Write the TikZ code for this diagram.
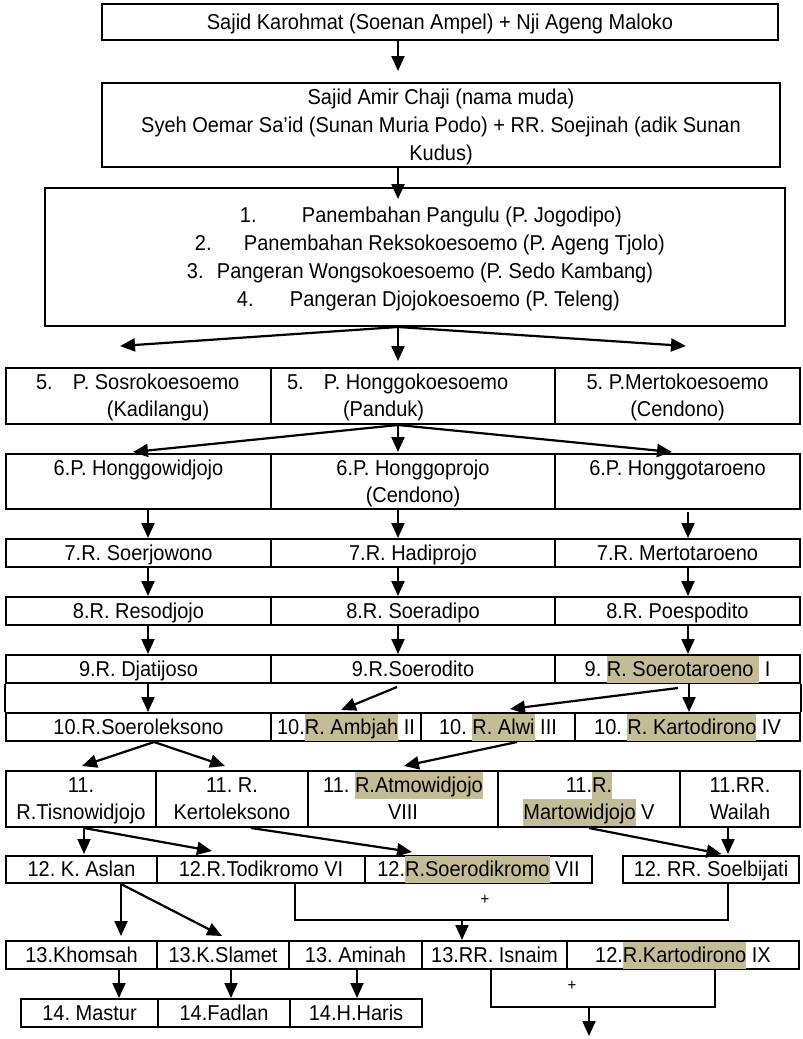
\documentclass[tikz,border=0pt]{standalone}
\usepackage{fontspec}
\setmainfont[FakeStretch=0.93]{Liberation Sans}
\usetikzlibrary{arrows.meta,calc}
\definecolor{hlc}{HTML}{C4BC96}
\newcommand\mystrut{\rule[-6.5pt]{0pt}{27pt}}
\newcommand\hl[1]{{\setlength{\fboxsep}{0pt}\colorbox{hlc}{\mystrut #1}}}
\newcommand\cell[7][]{\pgfmathsetmacro\cellw{(#5)-(#3)}\node[cellbox,minimum width=\cellw pt,text width=\cellw pt,minimum height={(#6)-(#4)},#1] (#2) at ({((#3)+(#5))/2},{((#4)+(#6))/2}) {#7};}
\begin{document}
\begin{tikzpicture}[x=1pt,y=-1pt,
  cellbox/.style={draw,line width=2pt,inner sep=0pt,align=center,font=\fontsize{21.5}{27}\selectfont\frenchspacing,
    execute at begin node={\spaceskip=\fontdimen2\font\relax\mystrut},execute at end node=\mystrut},
  arr/.style={line width=2.2pt,-{Triangle[length=15pt,width=13pt]}},
  bracket/.style={line width=1.6pt},
  plus/.style={font=\fontsize{16}{18}\selectfont,inner sep=0pt},
  sideline/.style={line width=2pt}]
\fill[white] (0,0) rectangle (803,1039);
\useasboundingbox (0,0) rectangle (803,1039);

% top boxes
\cell{b1}{102}{4}{778}{40}{Sajid Karohmat (Soenan Ampel) + Nji Ageng Maloko}
\cell[font=\fontsize{21.5}{28}\selectfont\frenchspacing]{b2}{102}{83}{780}{167}{Sajid Amir Chaji (nama muda)\\Syeh Oemar Sa’id (Sunan Muria Podo) + RR. Soejinah (adik Sunan\\Kudus)}
\cell[align=left,font=\fontsize{21.5}{28}\selectfont\frenchspacing]{b3}{45}{188}{785}{326}{%
\hspace*{195pt}\makebox[62pt][l]{1.}Panembahan Pangulu (P. Jogodipo)\\
\hspace*{150pt}\makebox[49pt][l]{2.}Panembahan Reksokoesoemo (P. Ageng Tjolo)\\
\hspace*{142pt}\makebox[30pt][l]{3.}Pangeran Wongsokoesoemo (P. Sedo Kambang)\\
\hspace*{192pt}\makebox[53pt][l]{4.}Pangeran Djojokoesoemo (P. Teleng)}

% row 5
\cell[align=left]{r5a}{6}{368}{271}{424}{\hspace*{30pt}\makebox[37pt][l]{5.}P. Sosrokoesoemo\\\hspace*{101pt}(Kadilangu)}
\cell[align=left]{r5b}{271}{368}{555}{424}{\hspace*{16pt}\makebox[37pt][l]{5.}P. Honggokoesoemo\\\hspace*{72pt}(Panduk)}
\cell{r5c}{555}{368}{800}{424}{5. P.Mertokoesoemo\\(Cendono)}

% row 6
\cell{r6a}{6}{454}{271}{509}{6.P. Honggowidjojo\\\mbox{}}
\cell{r6b}{271}{454}{555}{509}{6.P. Honggoprojo\\(Cendono)}
\cell{r6c}{555}{454}{800}{509}{6.P. Honggotaroeno\\\mbox{}}

% row 7
\cell{r7a}{6}{539}{271}{567}{7.R. Soerjowono}
\cell{r7b}{271}{539}{555}{567}{7.R. Hadiprojo}
\cell{r7c}{555}{539}{800}{567}{7.R. Mertotaroeno}

% row 8
\cell{r8a}{6}{597}{271}{625}{8.R. Resodjojo}
\cell{r8b}{271}{597}{555}{625}{8.R. Soeradipo}
\cell{r8c}{555}{597}{800}{625}{8.R. Poespodito}

% row 9
\cell{r9a}{6}{655}{271}{683}{9.R. Djatijoso}
\cell{r9b}{271}{655}{555}{683}{9.R.Soerodito}
\cell{r9c}{555}{655}{800}{683}{9. \hl{R. Soerotaroeno\ }\ I}

% row 10
\cell{r10a}{6}{713}{271}{741}{10.R.Soeroleksono}
\cell{r10b}{271}{713}{421}{741}{10.\hl{R. Ambjah} II}
\cell{r10c}{421}{713}{575}{741}{10. \hl{R. Alwi} III}
\cell{r10d}{575}{713}{800}{741}{10. \hl{R. Kartodirono} IV}
\draw[sideline] (r9a.south west) -- (r10a.north west);
\draw[sideline] (r9c.south east) -- (r10d.north east);

% row 11
\cell{r11a}{6}{771}{156}{827}{11.\\R.Tisnowidjojo}
\cell{r11b}{156}{771}{308}{827}{11. R.\\Kertoleksono}
\cell{r11c}{308}{771}{498}{827}{11. \hl{R.Atmowidjojo}\\VIII}
\cell{r11d}{498}{771}{680}{827}{11.\hl{R.}\\\hl{Martowidjojo} V}
\cell{r11e}{680}{771}{800}{827}{11.RR.\\Wailah}

% row 12
\cell{r12a}{6}{856}{157}{883}{12. K. Aslan}
\cell{r12b}{157}{856}{365}{883}{12.R.Todikromo VI}
\cell{r12c}{365}{856}{592}{883}{12.\hl{R.Soerodikromo} VII}
\cell{r12d}{623}{856}{799}{883}{12. RR. Soelbijati}

% row 13
\cell{r13a}{6}{941}{157}{969}{13.Khomsah}
\cell{r13b}{157}{941}{289}{969}{13.K.Slamet}
\cell{r13c}{289}{941}{422}{969}{13. Aminah}
\cell{r13d}{422}{941}{567}{969}{13.RR. Isnaim}
\cell{r13e}{567}{941}{799}{969}{12.\hl{R.Kartodirono} IX}

% row 14
\cell{r14a}{21}{999}{158}{1027}{14. Mastur}
\cell{r14b}{158}{999}{290}{1027}{14.Fadlan}
\cell{r14c}{290}{999}{422}{1027}{14.H.Haris}

% connectors
\draw[arr] ($(b1.south)+(-42,0)$) -- ($(b2.north)+(-43,-11)$);
\draw[arr] ($(b2.south)+(-43,0)$) -- ($(b3.north)+(-17,12)$);

\draw[arr] ($(b3.south)+(-17,0)$) -- ($(r5a.north)+(-18.5,-21)$);
\draw[arr] ($(b3.south)+(-17,0)$) -- ($(r5b.north)+(-15,-6)$);
\draw[arr] ($(b3.south)+(-17,0)$) -- ($(r5c.north)+(8.5,-21)$);

\draw[arr] ($(r5b.south)+(-15,0)$) -- ($(r6a.north)+(-5.5,-1)$);
\draw[arr] ($(r5b.south)+(-15,0)$) -- ($(r6b.north)+(-15,-1)$);
\draw[arr] ($(r5b.south)+(-15,0)$) -- ($(r6c.north)+(-5.5,-1)$);

\draw[arr] ($(r6a.south)+(9.5,0)$) -- ($(r7a.north)+(9.5,0)$);
\draw[arr] ($(r6b.south)+(-15,0)$) -- ($(r7b.north)+(-15,0)$);
\draw[arr] ($(r6c.south)+(10.5,2)$) -- ($(r7c.north)+(10.5,0)$);

\draw[arr] ($(r7a.south)+(9.5,0)$) -- ($(r8a.north)+(9.5,0)$);
\draw[arr] ($(r7b.south)+(-15,0)$) -- ($(r8b.north)+(-15,0)$);
\draw[arr] ($(r7c.south)+(10.5,0)$) -- ($(r8c.north)+(10.5,0)$);

\draw[arr] ($(r8a.south)+(9.5,0)$) -- ($(r9a.north)+(9.5,0)$);
\draw[arr] ($(r8b.south)+(-15,0)$) -- ($(r9b.north)+(-15,0)$);
\draw[arr] ($(r8c.south)+(10.5,0)$) -- ($(r9c.north)+(10.5,0)$);

\draw[arr] ($(r9a.south)+(9.5,0)$) -- ($(r10a.north)+(9.5,0)$);
\draw[arr] ($(r9b.south)+(-16,3)$) -- ($(r10b.north)+(-5,-2)$);
\draw[arr] ($(r9c.south)+(0.5,4)$) -- ($(r10c.north)+(12,-3)$);
\draw[arr] ($(r9c.south)+(11.5,0)$) -- ($(r10d.north)+(1.5,0)$);

\draw[arr] ($(r10a.south)+(15.5,0)$) -- ($(r11a.north)+(1,-4)$);
\draw[arr] ($(r10a.south)+(15.5,0)$) -- ($(r11b.north)+(-7,-4)$);
\draw[arr] ($(r10c.south)+(19,0)$) -- ($(r11c.north)+(1,-4)$);

\draw[arr] ($(r11a.south)+(3,0)$) -- ($(r12a.north)+(2.5,-1)$);
\draw[arr] ($(r11a.south)+(3,0)$) -- ($(r12b.north)+(-49,-4)$);
\draw[arr] ($(r11b.south)+(19,0)$) -- ($(r12c.north)+(-66.5,-3)$);
\draw[arr] ($(r11d.south)+(0,0)$) -- ($(r12d.north)+(10.5,-1)$);
\draw[arr] ($(r11e.south)+(-12,0)$) -- ($(r12d.north)+(17,-1)$);

\draw[arr] ($(r12a.south)+(39.5,0)$) -- ($(r13a.north)+(39.5,-4)$);
\draw[arr] ($(r12a.south)+(39.5,0)$) -- ($(r13b.north)+(-1,-4)$);

\draw[bracket] ($(r12b.south)+(34,0)$) |- ($(r12d.south)+(17,36)$) -- ($(r12d.south)+(17,0)$);
\node[plus] (plus1) at (485,900) {+};
\coordinate (j1) at (462,919);
\draw[arr] (j1) -- ($(r13d.north)+(-32.5,0)$);

\draw[arr] ($(r13a.south)+(37.5,0)$) -- ($(r14a.north)+(29.5,0)$);
\draw[arr] ($(r13b.south)+(8,0)$) -- ($(r14b.north)+(7,0)$);
\draw[arr] ($(r13c.south)+(1.5,0)$) -- ($(r14c.north)+(1,0)$);

\draw[bracket] ($(r13d.south)+(-3.5,0)$) |- ($(r13e.south)+(32,37)$) -- ($(r13e.south)+(32,0)$);
\node[plus] (plus2) at (572,986) {+};
\coordinate (j2) at (589,1006);
\coordinate (e2) at (589,1036);
\draw[arr] (j2) -- (e2);
\end{tikzpicture}
\end{document}
